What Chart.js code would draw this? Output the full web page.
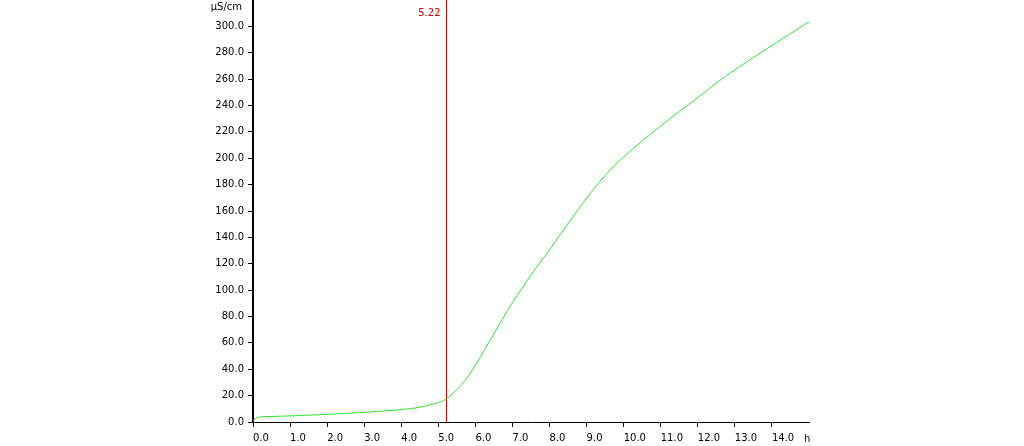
<!DOCTYPE html>
<html>
<head>
<meta charset="utf-8">
<script src="https://cdn.jsdelivr.net/npm/chart.js@4"></script>
<style>
  body { margin: 0; background: #fff; }
  canvas { display: block; }
</style>
</head>
<body>
<canvas id="grafico" width="1024" height="446"></canvas>
<script>
// datos
var horas = [0, 0.1, 0.25, 0.5, 1, 1.5, 2, 2.5, 3, 3.5, 4, 4.5, 5, 5.22, 5.5, 5.75, 6, 6.5, 7, 7.5, 8, 8.5, 9, 9.5, 10, 10.5, 11, 11.5, 12, 12.5, 13, 13.5, 14, 14.5, 15];
var conductividad = [0.8, 3.3, 4.0, 4.2, 4.6, 5.2, 5.8, 6.5, 7.3, 8.3, 9.4, 11.2, 14.7, 17.5, 24.6, 32.5, 43.0, 67.0, 90.5, 111.5, 130.6, 150.5, 169.7, 187.0, 201.0, 213.0, 224.5, 235.5, 246.0, 257.0, 267.0, 276.5, 285.5, 294.5, 303.5];
var marcaX = 5.22;
var unidadY = "µS/cm";
var unidadX = "h";

var fuente = { family: "DejaVu Sans", size: 10 };

var textos = {
  id: "textos",
  afterDraw: function (chart) {
    var ctx = chart.ctx;
    var x = chart.scales.x;
    ctx.save();
    ctx.font = "10px 'DejaVu Sans'";
    ctx.textBaseline = "middle";
    ctx.fillStyle = "#000";
    ctx.textAlign = "right";
    ctx.fillText(unidadY, 242, 7);
    ctx.textAlign = "left";
    ctx.fillText(unidadX, 804, 439);
    ctx.fillStyle = "#cc0000";
    ctx.textAlign = "right";
    ctx.fillText(marcaX.toFixed(2), x.getPixelForValue(marcaX) - 6, 13);
    ctx.restore();
  },
};

new Chart(document.getElementById("grafico"), {
  type: "line",
  data: {
    datasets: [
      {
        label: "conductividad",
        data: horas.map(function (h, i) {
          return { x: h, y: conductividad[i] };
        }),
        borderColor: "#2ee02e",
        borderWidth: 1,
        pointRadius: 0,
        tension: 0.3,
        fill: false,
      },
      {
        label: "marca",
        data: [
          { x: marcaX, y: 0 },
          { x: marcaX, y: 320 },
        ],
        borderColor: "#cc0000",
        borderWidth: 1,
        pointRadius: 0,
        fill: false,
      },
    ],
  },
  options: {
    responsive: false,
    devicePixelRatio: 1,
    animation: false,
    layout: { padding: { left: 0, right: 215, top: 0, bottom: 0 } },
    plugins: {
      legend: { display: false },
      tooltip: { enabled: false },
    },
    scales: {
      x: {
        type: "linear",
        min: 0,
        max: 15,
        afterBuildTicks: function (axis) {
          axis.ticks = axis.ticks.filter(function (t) {
            return t.value <= 14;
          });
        },
        afterFit: function (axis) {
          axis.height = 24;
          axis.paddingLeft = 0;
          axis.paddingRight = 0;
        },
        ticks: {
          stepSize: 1,
          align: "start",
          padding: 5,
          maxRotation: 0,
          autoSkip: false,
          color: "#000",
          font: fuente,
          callback: function (v) {
            return Number(v).toFixed(1);
          },
        },
        grid: {
          drawOnChartArea: false,
          drawTicks: true,
          tickLength: 5,
          color: "#000",
        },
        border: { display: true, color: "#000", width: 1 },
      },
      y: {
        type: "linear",
        min: 0,
        max: 320,
        afterBuildTicks: function (axis) {
          axis.ticks = axis.ticks.filter(function (t) {
            return t.value <= 300;
          });
        },
        afterFit: function (axis) {
          axis.width = 253;
          axis.paddingTop = 0;
          axis.paddingBottom = 0;
        },
        ticks: {
          stepSize: 20,
          padding: 4,
          autoSkip: false,
          color: "#000",
          font: fuente,
          callback: function (v) {
            return Number(v).toFixed(1);
          },
        },
        grid: {
          drawOnChartArea: false,
          drawTicks: true,
          tickLength: 5,
          color: "#000",
        },
        border: { display: true, color: "#000", width: 2 },
      },
    },
  },
  plugins: [textos],
});
</script>
</body>
</html>
